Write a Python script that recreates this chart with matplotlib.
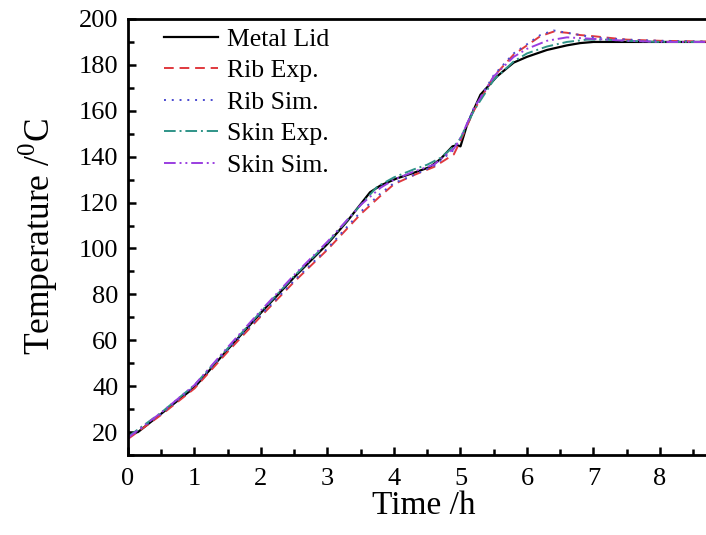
import matplotlib
matplotlib.use("Agg")
import matplotlib.pyplot as plt
from matplotlib.ticker import MultipleLocator

plt.rcParams["font.family"] = ["Liberation Serif", "DejaVu Serif"]
plt.rcParams["mathtext.fontset"] = "custom"
plt.rcParams["mathtext.rm"] = "Liberation Serif"

# Metal lid (black, solid)
lid_t = [0, 0.15, 0.5, 1.0, 1.5, 2.0, 2.5, 3.0, 3.3, 3.64, 3.8, 4.04, 4.3, 4.54, 4.7,
         4.88, 4.95, 5.0, 5.1, 5.3, 5.55, 5.8, 6.0, 6.3, 6.6, 6.8, 7.0, 7.5, 8.0, 8.5, 9.0]
lid_T = [19, 20, 28, 39.5, 56, 72, 87.5, 102, 112, 124.5, 127.5, 130.5, 133, 135.5, 139,
         144.5, 145, 144.5, 154, 167, 175, 181, 183.5, 186.5, 188.5, 189.5, 190, 190, 190, 190, 190]

# Rib experiment (red, dashed)
rib_exp_t = [0, 0.5, 1, 1.5, 2, 2.5, 3, 3.5, 3.8, 4.0, 4.3, 4.6, 4.9, 5.0, 5.2, 5.5,
             5.8, 6.0, 6.2, 6.4, 6.6, 6.8, 7.0, 7.5, 8, 9]
rib_exp_T = [17, 27.5, 39, 55, 70.5, 85.5, 99.5, 115, 123, 128, 132, 135.5, 141, 147, 160, 175,
             184.5, 188.5, 192.5, 194.5, 194, 193, 192.5, 191, 190.5, 190]

# Rib simulation (blue, dotted)
rib_sim_t = [0, 0.5, 1, 1.5, 2, 2.5, 3, 3.5, 3.8, 4.0, 4.3, 4.6, 4.9, 5.0, 5.2, 5.5,
             5.8, 6.0, 6.2, 6.4, 6.6, 6.8, 7.0, 7.5, 8, 9]
rib_sim_T = [17.5, 28, 40, 56, 71, 86, 100, 116, 124, 128.5, 132, 136, 143, 148, 161, 175.5,
             185, 189, 193, 195, 194, 193, 192, 191, 190.5, 190]

# Skin experiment (teal, dash-dot)
skin_exp_t = [0, 0.5, 1, 1.5, 2, 2.5, 3, 3.5, 3.75, 4.0, 4.3, 4.5, 4.7, 4.9, 5.0, 5.2,
              5.5, 5.8, 6.0, 6.3, 6.6, 6.9, 7.2, 7.5, 8, 9]
skin_exp_T = [18, 28.5, 40.5, 56.5, 72.5, 88, 102.5, 119, 127, 131, 134.5, 136.5, 139.5, 144.5, 148, 160,
              173.5, 181.5, 185, 188, 190, 191, 191, 190.5, 190, 190]

# Skin simulation (purple, dash-dot-dot)
skin_sim_t = [0, 0.5, 1, 1.5, 2, 2.5, 3, 3.5, 3.8, 4.0, 4.3, 4.6, 4.9, 5.0, 5.2, 5.5,
              5.8, 6.0, 6.3, 6.6, 6.9, 7.2, 7.5, 8, 9]
skin_sim_T = [17.5, 28.5, 40.5, 57, 73, 88.5, 103, 119, 126.5, 130, 133.5, 136.5, 143.5, 148, 161, 175,
              183.5, 187, 190.5, 192, 191.5, 191, 190.5, 190, 190]

x_ticks = list(range(0, 9))
y_ticks = list(range(20, 201, 20))

fig = plt.figure(figsize=(7.06, 5.35), dpi=100)
ax = fig.add_axes([0.1813, 0.1495, 0.8477, 0.815])

ax.plot(lid_t, lid_T, color="black", lw=1.6, label="Metal Lid")
ax.plot(rib_exp_t, rib_exp_T, color="#e0393e", lw=1.4, ls=(0, (5, 3)), label="Rib Exp.")
ax.plot(rib_sim_t, rib_sim_T, color="#4a4ad0", lw=1.4, ls=(0, (1, 3)), label="Rib Sim.")
ax.plot(skin_exp_t, skin_exp_T, color="#2f9488", lw=1.4, ls=(0, (6, 2, 1, 2)), label="Skin Exp.")
ax.plot(skin_sim_t, skin_sim_T, color="#9a3ee0", lw=1.4, ls=(0, (6, 2, 1, 2, 1, 2)), label="Skin Sim.")

ax.set_xlim(0, 9)
ax.set_ylim(10, 200)
ax.set_xticks(x_ticks)
ax.xaxis.set_minor_locator(MultipleLocator(0.5))
ax.set_yticks(y_ticks)
ax.yaxis.set_minor_locator(MultipleLocator(10))
ax.tick_params(which="both", direction="in", width=1.8, labelsize=19)
ax.tick_params(axis="x", pad=9)
ax.tick_params(axis="y", pad=7)
ax.tick_params(which="major", length=6)
ax.tick_params(which="minor", length=4)
for s in ax.spines.values():
    s.set_linewidth(2)

ax.set_xlabel("Time /h", fontsize=24)
ax.xaxis.set_label_coords(0.495, -0.082)
ax.set_ylabel(r"Temperature /$^{\mathrm{0}}$C", fontsize=25.5)
ax.yaxis.set_label_coords(-0.113, 0.5)

ax.legend(loc="upper left", bbox_to_anchor=(0.06, 0.98), frameon=False, fontsize=18.5,
          handlelength=2.1, handletextpad=0.35, labelspacing=0.33, borderpad=0, borderaxespad=0)

fig.savefig("out.png", dpi=100)
